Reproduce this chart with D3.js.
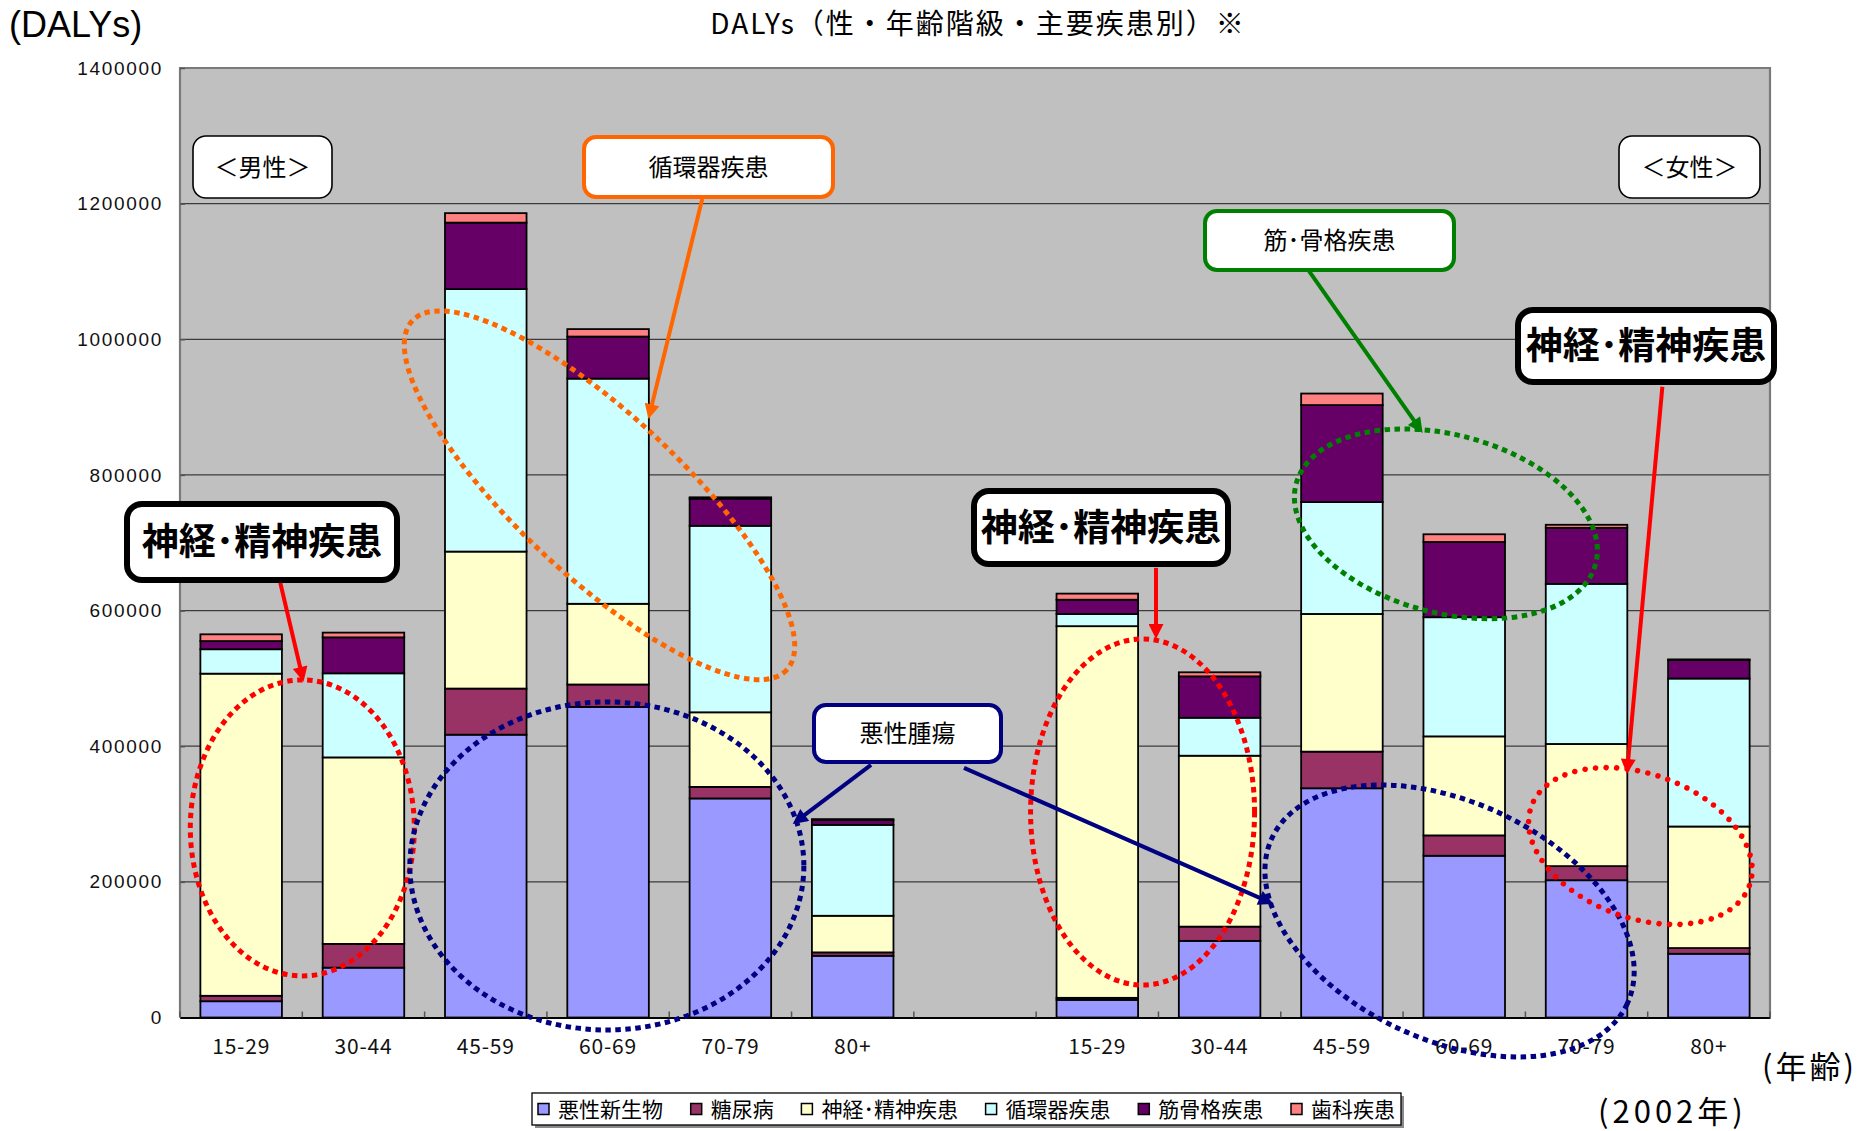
<!DOCTYPE html>
<html>
<head>
<meta charset="utf-8">
<script src="https://cdn.jsdelivr.net/npm/d3@7"></script>
<style>
  html, body { margin: 0; padding: 0; background: #ffffff; }
  svg { display: block; }
</style>
</head>
<body>
<svg id="chart" width="1866" height="1131"></svg>
<script>
// ---- data -------------------------------------------------------------
const ages = ["15-29", "30-44", "45-59", "60-69", "70-79", "80+"];
const sexes = ["男性", "女性"];
const seriesNames = ["悪性新生物", "糖尿病", "神経･精神疾患", "循環器疾患", "筋骨格疾患", "歯科疾患"];
const seriesColors = ["#9999FF", "#993366", "#FFFFCC", "#CCFFFF", "#660066", "#FF8080"];

// DALYs per age group: six male groups followed by six female groups
const malignant   = [24000, 73500, 417000, 458000, 323000, 91000,   26000, 113000, 338000, 238500, 202400, 94000];
const diabetes    = [ 8000, 35000,  68000,  33000,  17000,  5000,    3000,  21000,  54000,  30000,  20800,  8400];
const neuro       = [475000, 275000, 202000, 119000, 110000, 54000, 548000, 252000, 203000, 146000, 180100, 179200];
const circulatory = [36000, 124000, 387000, 332000, 275000, 134000,  18000,  56000, 165000, 175700, 236100, 218200];
const musculo     = [12000, 53000,  98000,  62000,  40000,  7000,   21000,  61000, 143000, 110900,  82600, 27200];
const dental      = [10000,  7000,  14000,  11000,   2000,  1500,    9000,   6000,  17000,  11400,   4500,  1000];

const yTicks = [0, 200000, 400000, 600000, 800000, 1000000, 1200000, 1400000];

// ---- layout -----------------------------------------------------------
const plot = { left: 180, right: 1770, top: 68, bottom: 1017.5 };
const JP = "'Noto Sans CJK JP', 'Noto Sans', sans-serif";
const seriesValues = [malignant, diabetes, neuro, circulatory, musculo, dental];
const seriesKeys = seriesNames.map((_, i) => "s" + i);

// one slot per age group and sex, with an empty slot between the two sexes
const slotKeys = [];
sexes.forEach((sx, si) => {
  ages.forEach(a => slotKeys.push(sx + "|" + a));
  if (si === 0) slotKeys.push("gap");
});
const groupKeys = slotKeys.filter(k => k !== "gap");

const rows = groupKeys.map((k, gi) => {
  const r = { key: k };
  seriesKeys.forEach((sk, si) => { r[sk] = seriesValues[si][gi]; });
  return r;
});

const x = d3.scaleBand()
  .domain(slotKeys)
  .range([plot.left, plot.right])
  .paddingInner(1 / 3)
  .paddingOuter(1 / 6);

const y = d3.scaleLinear()
  .domain([0, 1400000])
  .range([plot.bottom, plot.top]);

const svg = d3.select("#chart");

// position helper for callouts: s in slot units from the plot's left edge, v in DALYs
const at = (s, v) => [x.range()[0] + s * x.step(), y(v)];

// ---- plot area --------------------------------------------------------
svg.append("rect")
  .attr("x", plot.left).attr("y", plot.top)
  .attr("width", plot.right - plot.left).attr("height", plot.bottom - plot.top)
  .attr("fill", "#C0C0C0");

svg.append("g")
  .selectAll("line")
  .data(yTicks.filter(t => t > 0 && t < 1400000))
  .join("line")
  .attr("x1", plot.left).attr("x2", plot.right)
  .attr("y1", d => y(d)).attr("y2", d => y(d))
  .attr("stroke", "#3c3c3c").attr("stroke-width", 1.3);

// frame of the plot area
svg.append("path")
  .attr("d", `M${plot.left},${plot.bottom} V${plot.top} H${plot.right} V${plot.bottom}`)
  .attr("fill", "none").attr("stroke", "#7a7a7a").attr("stroke-width", 2.2);

// ---- stacked bars -----------------------------------------------------
const stacked = d3.stack().keys(seriesKeys)(rows);

svg.append("g")
  .selectAll("g")
  .data(stacked)
  .join("g")
  .attr("fill", (d, i) => seriesColors[i])
  .selectAll("rect")
  .data(d => d)
  .join("rect")
  .attr("x", d => x(d.data.key))
  .attr("width", x.bandwidth())
  .attr("y", d => y(d[1]))
  .attr("height", d => Math.max(0, y(d[0]) - y(d[1])))
  .attr("stroke", "#000").attr("stroke-width", 1.8);

// ---- axes -------------------------------------------------------------
const yAxis = svg.append("g")
  .attr("transform", `translate(${plot.left},0)`)
  .call(d3.axisLeft(y).tickValues(yTicks).tickFormat(d3.format("d")).tickSize(-5).tickPadding(17));
yAxis.select(".domain").remove();
yAxis.selectAll(".tick line").attr("stroke", "#555").attr("stroke-width", 1.5);
yAxis.selectAll(".tick text")
  .attr("font-family", "'Liberation Sans', Arial, sans-serif")
  .attr("font-size", 19).attr("letter-spacing", 1.7).attr("fill", "#111");

const xAxis = svg.append("g")
  .attr("transform", `translate(0,${plot.bottom})`)
  .call(d3.axisBottom(x).tickFormat(k => k === "gap" ? "" : k.split("|")[1]).tickSize(0).tickPadding(22));
xAxis.select(".domain").attr("stroke", "#000").attr("stroke-width", 1.8);
xAxis.selectAll(".tick text")
  .attr("font-family", JP).attr("font-size", 21).attr("letter-spacing", 0.8).attr("fill", "#111");

// tick marks between categories
svg.append("g")
  .selectAll("line")
  .data(d3.range(slotKeys.length + 1))
  .join("line")
  .attr("x1", i => x.range()[0] + i * x.step())
  .attr("x2", i => x.range()[0] + i * x.step())
  .attr("y1", plot.bottom - 6).attr("y2", plot.bottom)
  .attr("stroke", "#555").attr("stroke-width", 1.5);

// ---- titles -----------------------------------------------------------
svg.append("text")
  .attr("x", 978).attr("y", 34)
  .attr("text-anchor", "middle")
  .attr("font-family", JP).attr("font-size", 28).attr("letter-spacing", 2).attr("fill", "#000")
  .text("DALYs（性・年齢階級・主要疾患別）※");

svg.append("text")
  .attr("x", 9).attr("y", 37)
  .attr("font-family", "'Liberation Sans', Arial, sans-serif").attr("font-size", 36).attr("fill", "#000")
  .text("(DALYs)");

svg.append("text")
  .attr("x", 1762).attr("y", 1078)
  .attr("font-family", JP).attr("font-size", 31).attr("letter-spacing", 3).attr("fill", "#000")
  .text("(年齢)");

svg.append("text")
  .attr("x", 1598).attr("y", 1123)
  .attr("font-family", JP).attr("font-size", 31).attr("letter-spacing", 4).attr("fill", "#000")
  .text("(2002年)");

// ---- callout ellipses ---------------------------------------------------
const ellipses = [
  { s: 3.43,  v: 770000, rx: 256, ry: 81,  rot: 43, color: "#FF6600", style: "square" },
  { s: 1.0,   v: 279500, rx: 112, ry: 148, rot: 0,  color: "#FF0000", style: "square" },
  { s: 3.49,  v: 223400, rx: 197, ry: 164, rot: 0,  color: "#000080", style: "square" },
  { s: 7.87,  v: 303000, rx: 112, ry: 173, rot: 0,  color: "#FF0000", style: "square" },
  { s: 10.38, v: 142300, rx: 196, ry: 119, rot: 25, color: "#000080", style: "square" },
  { s: 10.35, v: 727900, rx: 155, ry: 89,  rot: 15, color: "#008000", style: "square" },
  { s: 11.94, v: 252900, rx: 116, ry: 72,  rot: 20, color: "#FF0000", style: "round" }
];

svg.append("g")
  .selectAll("ellipse")
  .data(ellipses)
  .join("ellipse")
  .attr("transform", d => { const [cx, cy] = at(d.s, d.v); return `translate(${cx},${cy}) rotate(${d.rot})`; })
  .attr("rx", d => d.rx).attr("ry", d => d.ry)
  .attr("fill", "none")
  .attr("stroke", d => d.color)
  .attr("stroke-width", d => d.style === "round" ? 5.5 : 5)
  .attr("stroke-linecap", d => d.style === "round" ? "round" : "butt")
  .attr("stroke-dasharray", d => d.style === "round" ? "0 10.5" : "5.5 4.5");

// ---- arrows -----------------------------------------------------------
const arrowColors = { orange: "#FF6600", red: "#FF0000", navy: "#000080", green: "#008000" };
const defs = svg.append("defs");
Object.entries(arrowColors).forEach(([name, c]) => {
  defs.append("marker")
    .attr("id", "head-" + name)
    .attr("viewBox", "0 0 10 10")
    .attr("refX", 10).attr("refY", 5)
    .attr("markerUnits", "userSpaceOnUse")
    .attr("markerWidth", 18).attr("markerHeight", 15)
    .attr("orient", "auto")
    .append("path").attr("d", "M0,0 L10,5 L0,10 Z").attr("fill", c);
});

const arrows = [
  { from: [4.27, 1207000], to: [3.83, 882300], color: "orange" },
  { from: [0.82, 641000],  to: [1.01, 495000], color: "red" },
  { from: [5.65, 372400],  to: [5.01, 285400], color: "navy" },
  { from: [6.41, 368000],  to: [8.94, 167400], color: "navy" },
  { from: [7.98, 663000],  to: [7.98, 558000], color: "red" },
  { from: [9.23, 1101000], to: [10.16, 862000], color: "green" },
  { from: [12.12, 930000], to: [11.83, 359000], color: "red" }
];

arrows.forEach(a => {
  const [x0, y0] = at(...a.from);
  const [x1, y1] = at(...a.to);
  const len = Math.hypot(x1 - x0, y1 - y0);
  const ux = (x1 - x0) / len, uy = (y1 - y0) / len;
  // stop the shaft inside the arrowhead so the point stays sharp
  svg.append("line")
    .attr("x1", x0).attr("y1", y0)
    .attr("x2", x1 - ux * 10).attr("y2", y1 - uy * 10)
    .attr("stroke", arrowColors[a.color]).attr("stroke-width", 4);
  svg.append("line")
    .attr("x1", x1 - ux * 12).attr("y1", y1 - uy * 12)
    .attr("x2", x1).attr("y2", y1)
    .attr("stroke", "none")
    .attr("marker-end", `url(#head-${a.color})`);
});

// ---- callout boxes ----------------------------------------------------
const boxes = [
  { x0: 193,  x1: 332,  y0: 136, y1: 198, stroke: "#000",    sw: 1.6, r: 13, text: "＜男性＞",     size: 24, weight: 400 },
  { x0: 1619, x1: 1760, y0: 136, y1: 198, stroke: "#000",    sw: 1.6, r: 13, text: "＜女性＞",     size: 24, weight: 400 },
  { x0: 584,  x1: 833,  y0: 137, y1: 197, stroke: "#FF6600", sw: 4,   r: 12, text: "循環器疾患",   size: 24, weight: 400 },
  { x0: 1205, x1: 1454, y0: 211, y1: 270, stroke: "#008000", sw: 4,   r: 12, text: "筋･骨格疾患",  size: 24, weight: 400 },
  { x0: 814,  x1: 1001, y0: 705, y1: 762, stroke: "#000080", sw: 4,   r: 12, text: "悪性腫瘍",     size: 24, weight: 400 },
  { x0: 127,  x1: 397,  y0: 504, y1: 580, stroke: "#000",    sw: 6,   r: 15, text: "神経･精神疾患", size: 37, weight: 700 },
  { x0: 974,  x1: 1228, y0: 491, y1: 564, stroke: "#000",    sw: 6,   r: 15, text: "神経･精神疾患", size: 37, weight: 700 },
  { x0: 1518, x1: 1774, y0: 310, y1: 382, stroke: "#000",    sw: 6,   r: 15, text: "神経･精神疾患", size: 37, weight: 700 }
];

const boxG = svg.append("g").selectAll("g").data(boxes).join("g");
boxG.append("rect")
  .attr("x", d => d.x0).attr("y", d => d.y0)
  .attr("width", d => d.x1 - d.x0).attr("height", d => d.y1 - d.y0)
  .attr("rx", d => d.r).attr("ry", d => d.r)
  .attr("fill", "#fff").attr("stroke", d => d.stroke).attr("stroke-width", d => d.sw);
boxG.append("text")
  .attr("x", d => (d.x0 + d.x1) / 2).attr("y", d => (d.y0 + d.y1) / 2)
  .attr("dy", "0.36em")
  .attr("text-anchor", "middle")
  .attr("font-family", JP).attr("font-size", d => d.size).attr("font-weight", d => d.weight)
  .attr("fill", "#000")
  .text(d => d.text);

// ---- legend -----------------------------------------------------------
const legend = { x0: 532, x1: 1401, y0: 1093, y1: 1125 };
svg.append("rect")
  .attr("x", legend.x0 + 3).attr("y", legend.y0 + 3)
  .attr("width", legend.x1 - legend.x0).attr("height", legend.y1 - legend.y0)
  .attr("fill", "#8a8a8a");
svg.append("rect")
  .attr("x", legend.x0).attr("y", legend.y0)
  .attr("width", legend.x1 - legend.x0).attr("height", legend.y1 - legend.y0)
  .attr("fill", "#fff").attr("stroke", "#000").attr("stroke-width", 1.3);

const legendG = svg.append("g");
const items = legendG.selectAll("g").data(seriesNames).join("g");
items.append("rect")
  .attr("width", 11).attr("height", 11)
  .attr("y", (legend.y0 + legend.y1) / 2 - 5.5)
  .attr("fill", (d, i) => seriesColors[i])
  .attr("stroke", "#000").attr("stroke-width", 1.5);
items.append("text")
  .attr("y", (legend.y0 + legend.y1) / 2)
  .attr("dy", "0.36em")
  .attr("font-family", JP).attr("font-size", 21).attr("fill", "#000")
  .text(d => d);

// lay items out left to right, spreading the spare room between them
const widths = [];
items.select("text").each(function () { widths.push(this.getComputedTextLength()); });
const swatchGap = 9, sw = 11;
const used = d3.sum(widths) + seriesNames.length * (sw + swatchGap);
const pad = 6;
const gap = (legend.x1 - legend.x0 - 2 * pad - used) / (seriesNames.length - 1);
let cursor = legend.x0 + pad;
items.each(function (d, i) {
  const g = d3.select(this);
  g.select("rect").attr("x", cursor);
  g.select("text").attr("x", cursor + sw + swatchGap);
  cursor += sw + swatchGap + widths[i] + gap;
});
</script>
</body>
</html>
